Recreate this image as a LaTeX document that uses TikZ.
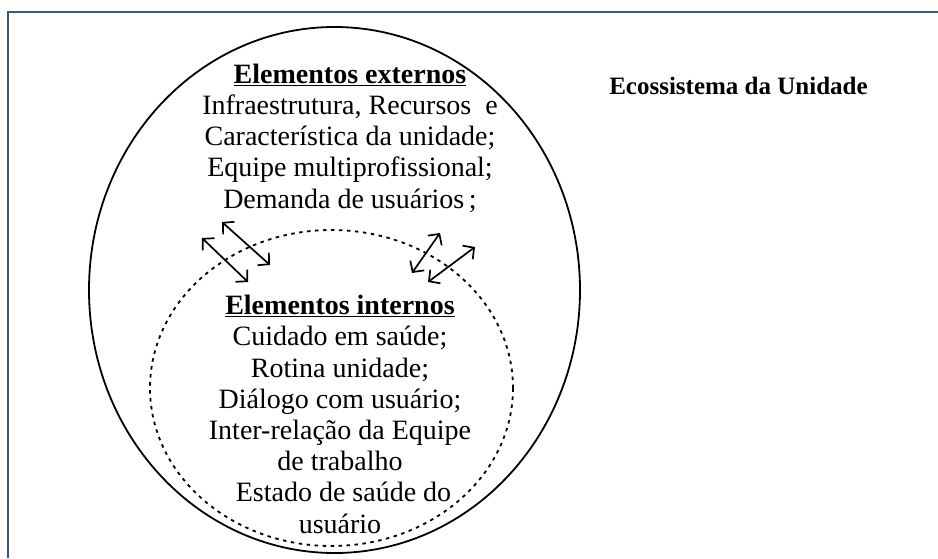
\documentclass[tikz,border=0pt]{standalone}
\usepackage{fontspec}
\setmainfont{Liberation Serif}
\usetikzlibrary{shapes.geometric,arrows.meta}
\definecolor{frameblue}{HTML}{3C5679}
\begin{document}
\begin{tikzpicture}[x=1pt,y=-1pt,
  outerell/.style={draw,line width=1.8pt,ellipse,inner sep=0pt},
  innerell/.style={draw,line width=1.8pt,ellipse,inner sep=0pt,dash pattern=on 3.5pt off 4.5pt},
  blocktext/.style={align=center,inner sep=0pt,font=\fontsize{28}{31.2}\selectfont},
  titletext/.style={inner sep=0pt,font=\fontsize{25}{28}\selectfont\bfseries},
  dblarrow/.style={line width=1.7pt,{Straight Barb[length=8pt,width=17pt]}-{Straight Barb[length=8pt,width=17pt]}}
]
\useasboundingbox (0,0) rectangle (938,558);
% frame (top and left only)
\coordinate (fbl) at (8,558);
\coordinate (ftl) at (8,12);
\coordinate (ftr) at (938,12);
\draw[frameblue,line width=2pt] (fbl) -- (ftl) -- (ftr);
% ellipses
\node[outerell,minimum width=491pt,minimum height=526pt] (outer) at (334.5,290) {};
\node[innerell,minimum width=363pt,minimum height=316pt] (inner) at (331.5,388) {};
% texts (anchor base = baseline of last line)
\node[blocktext,anchor=base] (ext) at (350,208) {\textbf{\underline{Elementos externos}}\\
Infraestrutura, Recursos\ \ e\\
Característica da unidade;\\
Equipe multiprofissional;\\
Demanda de usuários\,;};
\node[blocktext,anchor=base] (int) at (340,533) {\textbf{\underline{Elementos internos}}\\
Cuidado em saúde;\\
Rotina unidade;\\
Diálogo com usuário;\\
Inter-relação da Equipe\\
de trabalho\\
\ Estado de saúde do\\
usuário};
\node[titletext,anchor=base] (title) at (738.5,94) {Ecossistema da Unidade};
% double arrows
\coordinate (a1s) at (222,222); \coordinate (a1e) at (270,265);
\coordinate (a2s) at (202,238); \coordinate (a2e) at (248,282);
\coordinate (a3s) at (440,233); \coordinate (a3e) at (412,273);
\coordinate (a4s) at (475,247); \coordinate (a4e) at (428,282);
\draw[dblarrow] (a1s) -- (a1e);
\draw[dblarrow] (a2s) -- (a2e);
\draw[dblarrow] (a3s) -- (a3e);
\draw[dblarrow] (a4s) -- (a4e);
\end{tikzpicture}
\end{document}
